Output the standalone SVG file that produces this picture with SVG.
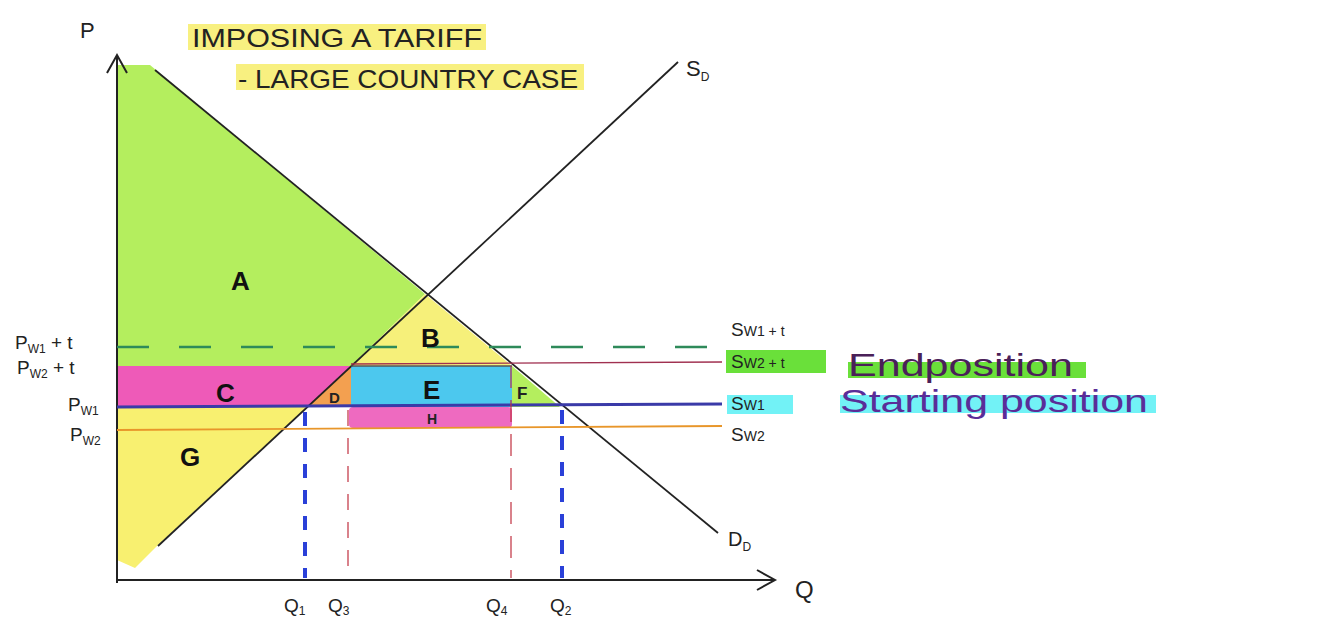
<svg xmlns="http://www.w3.org/2000/svg" width="1334" height="643" viewBox="0 0 1334 643">
<style>
.t{font-family:"Liberation Sans",Arial,sans-serif;fill:#222}
.ax{stroke:#222;stroke-width:2;fill:none}
.big{font-size:26px;font-weight:bold;fill:#111}
.lbl{font-size:19px}
.sub{font-size:12px}
</style>
<defs>
<marker id="arr" markerWidth="24" markerHeight="24" refX="20" refY="12" orient="auto" markerUnits="userSpaceOnUse">
<path d="M2,2 L20,12 L2,22" fill="none" stroke="#222" stroke-width="2"/>
</marker>
</defs>
<rect width="1334" height="643" fill="#fff"/>
<g id="areas">
<polygon id="A" points="117,65 150,65 425,294 351,366 117,366" fill="#b4ee5e"/>
<polygon id="B" points="425,294 351,366 512,366" fill="#f6f07a"/>
<rect id="C" x="117" y="366" width="234" height="41" fill="#ee5ab8"/>
<polygon id="D" points="351,366 307,407 351,407" fill="#f3a050"/>
<rect id="E" x="351" y="366" width="161" height="41" fill="#4cc8ee"/>
<polygon id="F" points="512,366 512,407 560,407" fill="#b4ee5e"/>
<rect id="H" x="349" y="407" width="163" height="21" rx="4" fill="#ee6ac0"/>
<polygon id="G" points="117,407 307,407 158,545 135,568 117,560" fill="#f8f070"/>
</g>
<g id="connectors">
<line x1="117" y1="583" x2="117" y2="55" class="ax" marker-end="url(#arr)"/>
<line x1="117" y1="580" x2="775" y2="580" class="ax" marker-end="url(#arr)"/>
<line id="supply" x1="158" y1="546" x2="678" y2="62" stroke="#222" stroke-width="1.8"/>
<line id="demand" x1="155" y1="70" x2="718" y2="533" stroke="#222" stroke-width="1.8"/>
<line id="sw1t" x1="117" y1="347" x2="722" y2="347" stroke="#2e8a5a" stroke-width="2.5" stroke-dasharray="32,30"/>
<line id="sw2t" x1="351" y1="364" x2="722" y2="362" stroke="#a03050" stroke-width="1.3"/>
<line id="sw2t-l" x1="351" y1="366" x2="512" y2="366" stroke="#555" stroke-width="1.3"/>
<line id="sw1" x1="117" y1="407" x2="722" y2="404" stroke="#3a3aa8" stroke-width="3"/>
<line id="sw2" x1="117" y1="430" x2="722" y2="426" stroke="#e8962a" stroke-width="1.8"/>
<line id="q1" x1="305" y1="412" x2="305" y2="578" stroke="#2a40d8" stroke-width="4" stroke-dasharray="14,12"/>
<line id="q3" x1="348" y1="410" x2="348" y2="578" stroke="#c03040" stroke-width="1.2" stroke-dasharray="16,12"/>
<line id="q4" x1="511" y1="366" x2="511" y2="578" stroke="#c03040" stroke-width="1.2" stroke-dasharray="22,12"/>
<line id="q2" x1="562" y1="410" x2="562" y2="578" stroke="#2a40d8" stroke-width="4" stroke-dasharray="14,12"/>
</g>
<g id="title">
<rect x="188" y="24" width="298" height="26" fill="#f8f080"/>
<rect x="236" y="64" width="348" height="26" fill="#f8f080"/>
<text class="t" x="192" y="47" font-size="25" textLength="290" lengthAdjust="spacingAndGlyphs">IMPOSING A TARIFF</text>
<text class="t" x="238" y="88" font-size="25" textLength="340" lengthAdjust="spacingAndGlyphs">- LARGE COUNTRY CASE</text>
</g>
<g id="axis-labels">
<text class="t" x="80" y="38" font-size="22">P</text>
<text class="t" x="795" y="598" font-size="24">Q</text>
<text class="t" x="686" y="76" font-size="22">S<tspan class="sub" dy="5">D</tspan></text>
<text class="t" x="728" y="546" font-size="20">D<tspan class="sub" dy="5">D</tspan></text>
</g>
<g id="left-labels">
<text class="t lbl" x="15" y="349">P<tspan class="sub" dy="4">W1</tspan><tspan dy="-4"> + t</tspan></text>
<text class="t lbl" x="17" y="374">P<tspan class="sub" dy="4">W2</tspan><tspan dy="-4"> + t</tspan></text>
<text class="t lbl" x="68" y="411">P<tspan class="sub" dy="4">W1</tspan></text>
<text class="t lbl" x="70" y="441">P<tspan class="sub" dy="4">W2</tspan></text>
</g>
<g id="right-labels">
<text class="t lbl" x="731" y="336">S<tspan font-size="14">W1 + t</tspan></text>
<rect x="726" y="350" width="100" height="23" fill="#6ae03a"/>
<text class="t lbl" x="731" y="368">S<tspan font-size="14">W2 + t</tspan></text>
<rect x="727" y="395" width="66" height="19" fill="#72f2f6"/>
<text class="t lbl" x="731" y="410">S<tspan font-size="14">W1</tspan></text>
<text class="t lbl" x="731" y="441">S<tspan font-size="14">W2</tspan></text>
<rect x="848" y="362" width="238" height="16" fill="#6ae03a"/>
<text class="t" x="848" y="376" font-size="32" textLength="225" lengthAdjust="spacingAndGlyphs" style="fill:#4a2058">Endposition</text>
<rect x="840" y="395" width="316" height="18" fill="#72f2f6"/>
<text class="t" x="840" y="412" font-size="32" textLength="308" lengthAdjust="spacingAndGlyphs" style="fill:#5a2d98">Starting position</text>
</g>
<g id="area-labels">
<text class="t big" x="231" y="290">A</text>
<text class="t big" x="421" y="347">B</text>
<text class="t big" x="216" y="402">C</text>
<text class="t" x="329" y="403" font-size="15" font-weight="bold">D</text>
<text class="t big" x="423" y="399">E</text>
<text class="t" x="517" y="399" font-size="17" font-weight="bold">F</text>
<text class="t" x="427" y="424" font-size="14" font-weight="bold">H</text>
<text class="t big" x="180" y="466">G</text>
</g>
<g id="q-labels">
<text class="t lbl" x="284" y="612">Q<tspan class="sub" dy="3">1</tspan></text>
<text class="t lbl" x="328" y="612">Q<tspan class="sub" dy="3">3</tspan></text>
<text class="t lbl" x="486" y="612">Q<tspan class="sub" dy="3">4</tspan></text>
<text class="t lbl" x="550" y="612">Q<tspan class="sub" dy="3">2</tspan></text>
</g>
</svg>
